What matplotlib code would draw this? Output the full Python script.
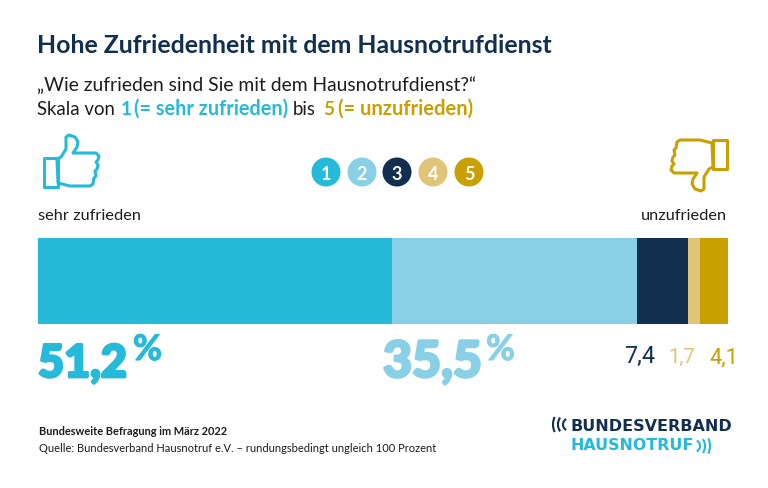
import matplotlib
matplotlib.use("Agg")
import matplotlib.pyplot as plt
import matplotlib.patheffects as pe
from matplotlib.patches import Arc, Circle, Polygon, Rectangle

plt.rcParams["font.family"] = ["Lato", "DejaVu Sans"]

W, H = 768, 489

categories = ["1", "2", "3", "4", "5"]
shares = [51.2, 35.5, 7.4, 1.7, 4.1]
share_labels = ["51,2", "35,5", "7,4", "1,7", "4,1"]
colors = ["#25b9da", "#89d0e6", "#132f50", "#e0c477", "#c9a000"]
navy = "#132f50"
black = "#1d1d1b"

fig = plt.figure(figsize=(W / 100, H / 100), dpi=100, facecolor="white")
renderer = fig.canvas.get_renderer()

# stacked bar
ax = fig.add_axes([38 / W, 1 - 324.5 / H, 690 / W, 85.5 / H])
left = 0
for val, col in zip(shares, colors):
    ax.barh(0, val, left=left, height=1, color=col, linewidth=0)
    left += val
ax.set_xlim(0, sum(shares))
ax.set_ylim(-0.5, 0.5)
ax.axis("off")

# overlay in pixel coords for text and icons
ov = fig.add_axes([0, 0, 1, 1])
ov.set_xlim(0, W)
ov.set_ylim(H, 0)
ov.axis("off")
ov.patch.set_alpha(0)


def txt(x, y, s, px, color=black, weight="normal", ha="left", width=None, stroke=0, family=None):
    t = ov.text(x, y, s, fontsize=px * 0.72, color=color, fontweight=weight, ha=ha, va="baseline")
    if family:
        t.set_family(family)
    # scale font so the text is as wide as in the reference
    if width:
        t.set_fontsize(t.get_fontsize() * width / t.get_window_extent(renderer).width)
    if stroke:
        t.set_path_effects([pe.withStroke(linewidth=stroke, foreground=color)])
    return t


txt(37, 53, "Hohe Zufriedenheit mit dem Hausnotrufdienst", 24, navy, "bold", width=515)
txt(37, 91, "„Wie zufrieden sind Sie mit dem Hausnotrufdienst?“", 19, black, width=440)
txt(37, 115, "Skala von", 19, black, width=78)
txt(121, 115, "1", 19, colors[0], "bold")
txt(134, 115, "(= sehr zufrieden)", 19, colors[0], "bold", width=154)
txt(293, 115, "bis", 19, black, width=23)
txt(323, 115, "5", 19, colors[4], "bold")
txt(338, 115, "(= unzufrieden)", 19, colors[4], "bold", width=135)

txt(38, 220, "sehr zufrieden", 16, black, width=103)
txt(727, 220, "unzufrieden", 16, black, ha="right", width=86)

# legend dots
dot_x = [326, 362, 397, 433, 469]
for x, cat, col in zip(dot_x, categories, colors):
    ov.add_patch(Circle((x, 173), 14.5, color=col, linewidth=0))
    txt(x, 179.5, cat, 18, "white", "bold", ha="center")

# thumbs
hand = [(57, 160), (61, 158), (66, 150), (66, 138), (69, 136), (75, 138), (78, 143), (77, 148),
        (73, 154), (96, 154), (99, 157), (98, 161), (96, 163), (98, 166), (97, 170), (95, 172),
        (96, 177), (94, 179), (93, 185), (90, 187), (70, 187), (58, 184)]
ov.add_patch(Polygon(hand, closed=True, fill=False, ec=colors[0], lw=2.2, joinstyle="round"))
ov.add_patch(Rectangle((43.5, 158.5), 14, 29, fill=False, ec=colors[0], lw=2.2, joinstyle="round"))
hand_down = [(770 - x, 328 - y) for x, y in hand]
ov.add_patch(Polygon(hand_down, closed=True, fill=False, ec=colors[4], lw=2.2, joinstyle="round"))
ov.add_patch(Rectangle((712.5, 140.5), 14, 29, fill=False, ec=colors[4], lw=2.2, joinstyle="round"))

# value labels
txt(38, 378, share_labels[0], 46, colors[0], "black", width=89, stroke=2)
txt(133, 361, "%", 32, colors[0], "bold", width=29, stroke=0.8)
txt(383, 378, share_labels[1], 46, colors[1], "black", width=99, stroke=2)
txt(486, 361, "%", 32, colors[1], "bold", width=29, stroke=0.8)
txt(624, 363, share_labels[2], 26, colors[2], width=31, family="Roboto")
txt(668, 363, share_labels[3], 26, colors[3], width=27, family="Roboto")
txt(709, 363, share_labels[4], 26, colors[4], width=29, family="Roboto")

# footer
txt(39, 435, "Bundesweite Befragung im März 2022", 11, black, "bold", width=189)
txt(39, 452, "Quelle: Bundesverband Hausnotruf e.V. – rundungsbedingt ungleich 100 Prozent", 11, black, width=396)

# logo
txt(570, 431, "BUNDESVERBAND", 16.5, navy, "bold", width=161, family="DejaVu Sans")
txt(570, 450, "HAUSNOTRUF", 16, colors[0], "bold", width=123, family="DejaVu Sans")
for cx, h in zip([560, 565, 570], [23, 19, 13]):
    ov.add_patch(Arc((cx, 425.5), 14, h, theta1=125, theta2=235, color=navy, lw=1.5))
for cx, h in zip([703, 698, 693], [23, 19, 13]):
    ov.add_patch(Arc((cx, 447), 14, h, theta1=-55, theta2=55, color=colors[0], lw=1.5))

fig.savefig("out.png", dpi=100)
